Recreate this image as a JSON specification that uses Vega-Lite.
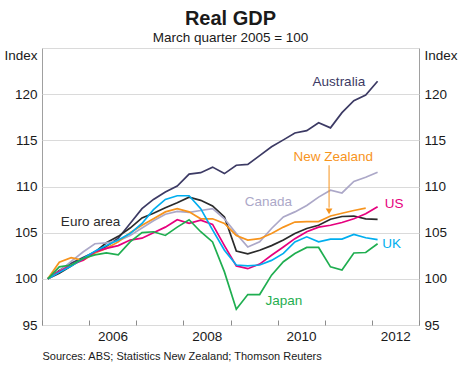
{
  "$schema": "https://vega.github.io/schema/vega-lite/v6.json",
  "width": 377,
  "height": 277,
  "autosize": "none",
  "padding": {"left": 42, "top": 48, "right": 51, "bottom": 51},
  "background": "white",
  "title": {
    "text": "Real GDP",
    "subtitle": "March quarter 2005 = 100",
    "anchor": "middle",
    "font": "Liberation Sans",
    "fontSize": 20,
    "fontWeight": "bold",
    "color": "#1a1a1a",
    "subtitleFont": "Liberation Sans",
    "subtitleFontSize": 13.5,
    "subtitleColor": "#1a1a1a",
    "subtitlePadding": 2,
    "offset": 4
  },
  "config": {
    "view": {"stroke": "#a0a0a0", "strokeWidth": 1},
    "font": "Liberation Sans",
    "text": {"font": "Liberation Sans"},
    "axisX": {
      "titleAnchor": "start",
      "titleAlign": "left",
      "titleX": 0,
      "titleY": 34,
      "titleBaseline": "alphabetic",
      "titleFont": "Liberation Sans",
      "titleFontSize": 11,
      "titleFontWeight": "normal",
      "titleColor": "#1a1a1a",
      "domain": false,
      "grid": false,
      "tickSize": -5,
      "tickColor": "#8c8c8c",
      "labelPadding": 9,
      "labelFontSize": 13.5,
      "labelColor": "#1a1a1a",
      "labelFlush": false,
      "labelOverlap": false
    }
  },
  "datasets": {
    "gdp": [
      {"date": "2005-02-15", "Australia": 100, "Euro area": 100, "Canada": 100, "New Zealand": 100, "US": 100, "UK": 100, "Japan": 100},
      {"date": "2005-05-15", "Australia": 100.9, "Euro area": 100.6, "Canada": 100.8, "New Zealand": 101.8, "US": 100.8, "UK": 100.7, "Japan": 101.3},
      {"date": "2005-08-15", "Australia": 101.7, "Euro area": 101.4, "Canada": 101.9, "New Zealand": 102.3, "US": 101.5, "UK": 101.4, "Japan": 101.5},
      {"date": "2005-11-15", "Australia": 102.3, "Euro area": 102.2, "Canada": 102.9, "New Zealand": 102.0, "US": 102.0, "UK": 102.2, "Japan": 102.2},
      {"date": "2006-02-15", "Australia": 102.9, "Euro area": 102.9, "Canada": 103.8, "New Zealand": 102.8, "US": 102.9, "UK": 103.0, "Japan": 102.6},
      {"date": "2006-05-15", "Australia": 103.5, "Euro area": 103.9, "Canada": 103.9, "New Zealand": 103.3, "US": 103.3, "UK": 103.6, "Japan": 102.8},
      {"date": "2006-08-15", "Australia": 104.4, "Euro area": 104.6, "Canada": 104.1, "New Zealand": 104.0, "US": 103.6, "UK": 104.2, "Japan": 102.6},
      {"date": "2006-11-15", "Australia": 106.0, "Euro area": 105.5, "Canada": 104.7, "New Zealand": 105.0, "US": 104.2, "UK": 104.9, "Japan": 104.0},
      {"date": "2007-02-15", "Australia": 107.6, "Euro area": 106.6, "Canada": 105.5, "New Zealand": 105.8, "US": 104.4, "UK": 106.0, "Japan": 105.0},
      {"date": "2007-05-15", "Australia": 108.6, "Euro area": 107.1, "Canada": 106.3, "New Zealand": 106.5, "US": 105.0, "UK": 107.5, "Japan": 105.1},
      {"date": "2007-08-15", "Australia": 109.4, "Euro area": 107.7, "Canada": 107.0, "New Zealand": 107.25, "US": 105.6, "UK": 108.6, "Japan": 104.7},
      {"date": "2007-11-15", "Australia": 110.05, "Euro area": 108.25, "Canada": 107.3, "New Zealand": 107.6, "US": 106.4, "UK": 109.0, "Japan": 105.6},
      {"date": "2008-02-15", "Australia": 111.35, "Euro area": 108.85, "Canada": 107.2, "New Zealand": 107.25, "US": 106.0, "UK": 109.0, "Japan": 106.4},
      {"date": "2008-05-15", "Australia": 111.5, "Euro area": 108.5, "Canada": 107.4, "New Zealand": 106.5, "US": 106.35, "UK": 107.6, "Japan": 105.1},
      {"date": "2008-08-15", "Australia": 112.1, "Euro area": 107.9, "Canada": 107.6, "New Zealand": 106.5, "US": 105.9, "UK": 105.3, "Japan": 104.0},
      {"date": "2008-11-15", "Australia": 111.4, "Euro area": 106.7, "Canada": 106.5, "New Zealand": 106.0, "US": 103.6, "UK": 103.1, "Japan": 100.75},
      {"date": "2009-02-15", "Australia": 112.3, "Euro area": 103.0, "Canada": 104.9, "New Zealand": 104.7, "US": 101.4, "UK": 101.5, "Japan": 96.7},
      {"date": "2009-05-15", "Australia": 112.4, "Euro area": 102.7, "Canada": 103.45, "New Zealand": 104.2, "US": 101.1, "UK": 101.4, "Japan": 98.3},
      {"date": "2009-08-15", "Australia": 113.35, "Euro area": 103.1, "Canada": 104.0, "New Zealand": 104.35, "US": 101.6, "UK": 101.5, "Japan": 98.3},
      {"date": "2009-11-15", "Australia": 114.3, "Euro area": 103.6, "Canada": 105.45, "New Zealand": 104.9, "US": 102.55, "UK": 102.0, "Japan": 100.4},
      {"date": "2010-02-15", "Australia": 115.05, "Euro area": 104.2, "Canada": 106.7, "New Zealand": 105.6, "US": 103.45, "UK": 102.75, "Japan": 101.85},
      {"date": "2010-05-15", "Australia": 115.8, "Euro area": 104.9, "Canada": 107.25, "New Zealand": 106.15, "US": 104.35, "UK": 104.0, "Japan": 102.75},
      {"date": "2010-08-15", "Australia": 116.05, "Euro area": 105.45, "Canada": 107.95, "New Zealand": 106.2, "US": 105.1, "UK": 104.55, "Japan": 103.4},
      {"date": "2010-11-15", "Australia": 116.9, "Euro area": 105.8, "Canada": 108.85, "New Zealand": 106.2, "US": 105.6, "UK": 104.0, "Japan": 103.4},
      {"date": "2011-02-15", "Australia": 116.35, "Euro area": 106.45, "Canada": 109.6, "New Zealand": 106.8, "US": 105.8, "UK": 104.3, "Japan": 101.3},
      {"date": "2011-05-15", "Australia": 118.0, "Euro area": 106.75, "Canada": 109.3, "New Zealand": 107.1, "US": 106.1, "UK": 104.3, "Japan": 100.95},
      {"date": "2011-08-15", "Australia": 119.3, "Euro area": 106.8, "Canada": 110.55, "New Zealand": 107.4, "US": 106.5, "UK": 104.8, "Japan": 102.8},
      {"date": "2011-11-15", "Australia": 119.9, "Euro area": 106.5, "Canada": 111.0, "New Zealand": 107.65, "US": 107.05, "UK": 104.45, "Japan": 102.85},
      {"date": "2012-02-15", "Australia": 121.4, "Euro area": 106.45, "Canada": 111.55, "New Zealand": null, "US": 107.8, "UK": 104.25, "Japan": 103.8}
    ],
    "labels": [
      {"date": "2011-04-21", "value": 121.3, "label": "Australia", "country": "Australia"},
      {"date": "2011-03-08", "value": 113.2, "label": "New Zealand", "country": "New Zealand"},
      {"date": "2009-10-21", "value": 108.35, "label": "Canada", "country": "Canada"},
      {"date": "2012-06-23", "value": 108.15, "label": "US", "country": "US"},
      {"date": "2012-06-02", "value": 103.75, "label": "UK", "country": "UK"},
      {"date": "2010-02-18", "value": 97.6, "label": "Japan", "country": "Japan"},
      {"date": "2006-01-12", "value": 106.2, "label": "Euro area", "country": "Euro area"}
    ]
  },
  "layer": [
    {
      "mark": {"type": "rule", "color": "#8c8c8c", "strokeWidth": 1},
      "encoding": {"y": {"datum": 100, "type": "quantitative", "axis": null}}
    },
    {
      "data": {"name": "gdp"},
      "transform": [
        {"fold": ["Australia", "Euro area", "Canada", "New Zealand", "US", "UK", "Japan"], "as": ["country", "value"]},
        {"filter": "datum.value != null"}
      ],
      "mark": {"type": "line", "strokeWidth": 1.7, "interpolate": "linear"},
      "encoding": {
        "x": {
          "field": "date",
          "type": "temporal",
          "scale": {"type": "utc", "domain": [{"year": 2005, "month": 1, "date": 1, "utc": true}, {"year": 2013, "month": 1, "date": 1, "utc": true}]},
          "axis": {
            "title": "Sources: ABS; Statistics New Zealand; Thomson Reuters",
            "tickCount": {"interval": "year", "step": 1},
            "labelExpr": "utcyear(datum.value) % 2 == 0 && utcyear(datum.value) < 2013 ? utcFormat(datum.value, '%Y') : ''",
            "labelOffset": 23.5
          }
        },
        "y": {
          "field": "value",
          "type": "quantitative",
          "scale": {"domain": [95, 125], "nice": false, "zero": false},
          "axis": {
            "orient": "left",
            "title": null,
            "values": [95, 100, 105, 110, 115, 120, 125],
            "labelExpr": "datum.value == 125 ? 'Index' : datum.label",
            "labelBaseline": {"expr": "datum.value == 125 ? 'top' : 'middle'"},
            "domain": false,
            "ticks": false,
            "grid": true,
            "gridColor": "#dadada",
            "gridWidth": 1,
            "labelPadding": 5,
            "labelFontSize": 13.5,
            "labelColor": "#1a1a1a",
            "labelFlush": false
          }
        },
        "color": {
          "field": "country",
          "type": "nominal",
          "scale": {
            "domain": ["Australia", "Euro area", "Canada", "New Zealand", "US", "UK", "Japan"],
            "range": ["#3c3a64", "#2b2b2b", "#aca8c8", "#f7941d", "#e6007e", "#00aeef", "#1fae50"]
          },
          "legend": null
        },
        "order": {"field": "date", "type": "temporal"}
      }
    },
    {
      "data": {"name": "labels"},
      "mark": {"type": "text", "fontSize": 13.5, "align": "center", "baseline": "middle", "font": "Liberation Sans"},
      "encoding": {
        "x": {
          "field": "date",
          "type": "temporal",
          "axis": {
            "title": "Sources: ABS; Statistics New Zealand; Thomson Reuters",
            "tickCount": {"interval": "year", "step": 1},
            "labelExpr": "utcyear(datum.value) % 2 == 0 && utcyear(datum.value) < 2013 ? utcFormat(datum.value, '%Y') : ''",
            "labelOffset": 23.5
          }
        },
        "y": {
          "field": "value",
          "type": "quantitative",
          "axis": {
            "orient": "right",
            "title": null,
            "values": [95, 100, 105, 110, 115, 120, 125],
            "labelExpr": "datum.value == 125 ? 'Index' : datum.label",
            "labelBaseline": {"expr": "datum.value == 125 ? 'top' : 'middle'"},
            "domain": false,
            "ticks": false,
            "grid": false,
            "labelPadding": 5,
            "labelFontSize": 13.5,
            "labelColor": "#1a1a1a",
            "labelFlush": false
          }
        },
        "text": {"field": "label"},
        "color": {"field": "country", "type": "nominal", "legend": null}
      }
    },
    {
      "data": {"values": [{"date": "2011-02-04", "value": 112.3, "value2": 107.7}]},
      "mark": {"type": "rule", "color": "#f7941d", "strokeWidth": 1},
      "encoding": {
        "x": {
          "field": "date",
          "type": "temporal",
          "axis": {
            "title": "Sources: ABS; Statistics New Zealand; Thomson Reuters",
            "tickCount": {"interval": "year", "step": 1},
            "labelExpr": "utcyear(datum.value) % 2 == 0 && utcyear(datum.value) < 2013 ? utcFormat(datum.value, '%Y') : ''",
            "labelOffset": 23.5
          }
        },
        "y": {"field": "value", "type": "quantitative", "axis": null},
        "y2": {"field": "value2"}
      }
    },
    {
      "data": {"values": [{"date": "2011-02-04", "value": 107.3}]},
      "mark": {"type": "point", "shape": "triangle-down", "filled": true, "size": 45, "color": "#f7941d", "opacity": 1},
      "encoding": {
        "x": {
          "field": "date",
          "type": "temporal",
          "axis": {
            "title": "Sources: ABS; Statistics New Zealand; Thomson Reuters",
            "tickCount": {"interval": "year", "step": 1},
            "labelExpr": "utcyear(datum.value) % 2 == 0 && utcyear(datum.value) < 2013 ? utcFormat(datum.value, '%Y') : ''",
            "labelOffset": 23.5
          }
        },
        "y": {"field": "value", "type": "quantitative", "axis": null}
      }
    }
  ],
  "resolve": {"axis": {"y": "independent"}}
}
